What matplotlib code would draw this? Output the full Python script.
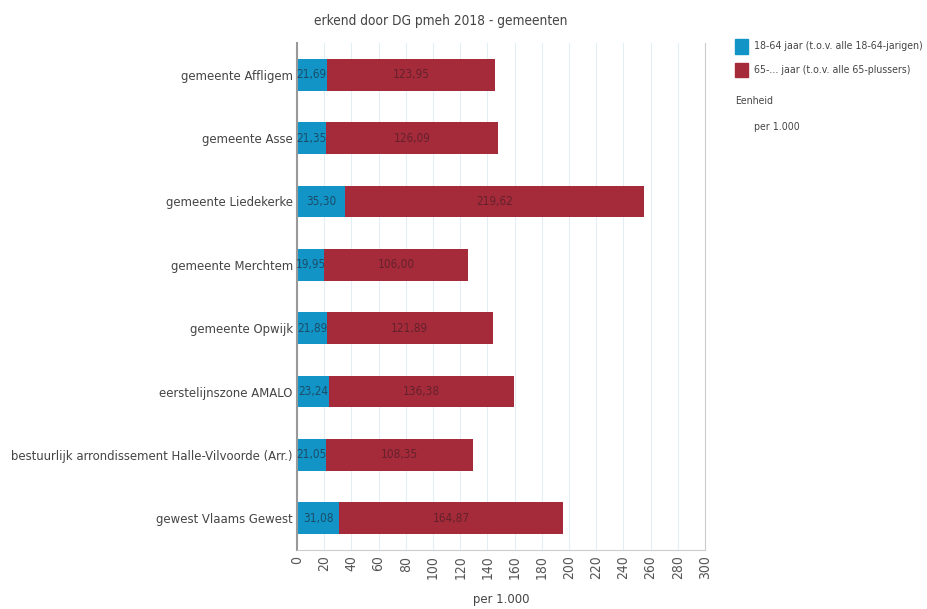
import matplotlib.pyplot as plt
import numpy as np

# regions from top to bottom
regions = ['gemeente Affligem', 'gemeente Asse', 'gemeente Liedekerke',
           'gemeente Merchtem', 'gemeente Opwijk', 'eerstelijnszone AMALO',
           'bestuurlijk arrondissement Halle-Vilvoorde (Arr.)',
           'gewest Vlaams Gewest']
age18_64 = [21.69, 21.35, 35.30, 19.95, 21.89, 23.24, 21.05, 31.08]
age65plus = [123.95, 126.09, 219.62, 106.00, 121.89, 136.38, 108.35, 164.87]
xticks = list(range(0, 301, 20))

blue = '#1295c6'
red = '#a52b3b'
txt = '#444444'

plt.rcParams['font.family'] = ['DejaVu Sans']
plt.rcParams['font.stretch'] = 'condensed'

fig = plt.figure(figsize=(9.27, 6.09), dpi=100)
ax = fig.add_axes([0.3204, 0.0969, 0.4401, 0.8325])

y = np.arange(len(regions))
h = 0.5
ax.barh(y, age18_64, height=h, color=blue)
ax.barh(y, age65plus, left=age18_64, height=h, color=red)

for i in range(len(regions)):
    ax.text(age18_64[i] / 2, y[i], '{:.2f}'.format(age18_64[i]).replace('.', ','),
            ha='center', va='center', fontsize=8.5, color='#1c3a52', alpha=0.8)
    ax.text(age18_64[i] + age65plus[i] / 2, y[i],
            '{:.2f}'.format(age65plus[i]).replace('.', ','),
            ha='center', va='center', fontsize=8.5, color='#3a1a20', alpha=0.6)

ax.set_ylim(len(regions) - 0.5, -0.5)
ax.set_xlim(0, 300)
ax.set_yticks(y)
ax.set_yticklabels(regions, fontsize=9.4, color=txt)
ax.set_xticks(xticks)
ax.set_xticklabels([str(t) for t in xticks], rotation=90, fontsize=10, color='#555555')
ax.tick_params(axis='y', length=0, pad=3)
ax.tick_params(axis='x', length=0, pad=4)
ax.grid(axis='x', color='#e3eef4', linewidth=0.8)
ax.set_axisbelow(True)
ax.spines['top'].set_visible(False)
ax.spines['right'].set_color('#cccccc')
ax.spines['bottom'].set_color('#cccccc')
ax.spines['left'].set_color('#999999')
ax.spines['left'].set_linewidth(1.5)
ax.set_xlabel('per 1.000', fontsize=9.4, color=txt, labelpad=10)

fig.text(0.475, 0.966, 'erkend door DG pmeh 2018 - gemeenten', ha='center',
         va='center', fontsize=9.8, color=txt)

# legend block on the right
fig.patches.append(plt.Rectangle((0.793, 0.912), 0.014, 0.024, transform=fig.transFigure,
                                 color=blue, figure=fig))
fig.patches.append(plt.Rectangle((0.793, 0.873), 0.014, 0.024, transform=fig.transFigure,
                                 color=red, figure=fig))
fig.text(0.813, 0.924, '18-64 jaar (t.o.v. alle 18-64-jarigen)', va='center',
         fontsize=7.6, color=txt)
fig.text(0.813, 0.885, '65-... jaar (t.o.v. alle 65-plussers)', va='center',
         fontsize=7.6, color=txt)
fig.text(0.793, 0.834, 'Eenheid', va='center', fontsize=7.6, color=txt)
fig.text(0.813, 0.792, 'per 1.000', va='center', fontsize=7.6, color=txt)

fig.savefig('out.png', dpi=100)
